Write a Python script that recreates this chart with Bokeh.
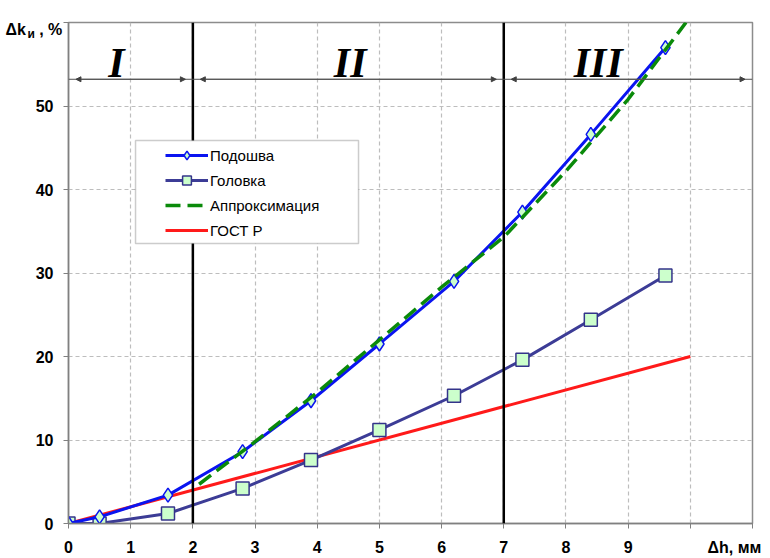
from bokeh.plotting import figure
from bokeh.models import (Range1d, FixedTicker, Span, Label, Legend, LegendItem,
                          BoxAnnotation, Arrow, NormalHead)
from bokeh.embed import file_html
from bokeh.resources import INLINE

# ---- data ----
x_pod = [0, 0.5, 1.6, 2.8, 3.9, 5.0, 6.2, 7.3, 8.4, 9.6]
y_pod = [0, 0.8, 3.4, 8.6, 14.7, 21.5, 29.0, 37.3, 46.6, 57.0]
x_gol = [0, 0.5, 1.6, 2.8, 3.9, 5.0, 6.2, 7.3, 8.4, 9.6]
y_gol = [0, 0.0, 1.2, 4.2, 7.6, 11.2, 15.3, 19.6, 24.4, 29.7]
x_appr = [2.1, 3, 4, 5, 6, 7, 8, 9, 9.93]
y_appr = [4.7, 9.8, 15.7, 22.0, 28.3, 34.3, 42.2, 50.8, 60.0]
x_gost = [0, 10]
y_gost = [0, 20]

x_grid_ticks = list(range(0, 12))
x_label_ticks = list(range(0, 10))
x_title = "Δh, мм"
x_title_pos = 10.71
y_ticks = [0, 10, 20, 30, 40, 50, 60]
y_tick_labels = {str(v): (str(v) if v <= 50 else "") for v in y_ticks}
y_title_main = "Δk\u00a0\u00a0\u00a0, %"
y_title_sub = "и"

zone_bounds = [0, 2, 7, 11]
zone_names = ["I", "II", "III"]
zone_label_x = [0.77, 4.53, 8.52]
arrow_y = 53.2
legend_names = ["Подошва", "Головка", "Аппроксимация", "ГОСТ Р"]

FONT = "Liberation Sans"
X0, XS = 68.0, 62.18   # pixel of x=0, px per x unit
Y0, YS = 523.0, 8.35   # pixel of y=0, px per y unit

p = figure(width=770, height=558, output_backend="svg", toolbar_location=None,
           x_range=Range1d(0, 11), y_range=Range1d(0, 60),
           min_border_left=68, min_border_right=18, min_border_top=22, min_border_bottom=35)
p.background_fill_color = "white"
p.border_fill_color = "white"
p.outline_line_color = "#8c8c8c"
p.outline_line_width = 1.5

for ax in (p.xaxis[0], p.yaxis[0]):
    ax.axis_line_color = "#808080"
    ax.axis_line_width = 1.5
    ax.major_tick_line_color = "#808080"
    ax.major_tick_in = 0
    ax.major_tick_out = 5
    ax.minor_tick_line_color = None
    ax.major_label_text_font = FONT
    ax.major_label_text_font_style = "bold"
    ax.major_label_text_font_size = "16px"
    ax.major_label_text_color = "black"

# x axis: tick marks as (minor) marks at every integer, labels 0..9 plus the axis title
x_major = x_label_ticks + [x_title_pos]
p.xaxis.ticker = FixedTicker(ticks=x_major, minor_ticks=x_grid_ticks)
p.xaxis.major_label_overrides = {x_title_pos: x_title}
p.xaxis.major_tick_line_color = None
p.xaxis.minor_tick_line_color = "#808080"
p.xaxis.minor_tick_in = 0
p.xaxis.minor_tick_out = 5
p.xaxis.major_tick_out = 5
p.xaxis.major_label_standoff = 10

p.yaxis.ticker = FixedTicker(ticks=y_ticks)
p.yaxis.major_label_overrides = {v: y_tick_labels[str(v)] for v in y_ticks}
p.yaxis.major_label_standoff = 10

p.xgrid.ticker = FixedTicker(ticks=x_grid_ticks)
p.ygrid.ticker = FixedTicker(ticks=y_ticks)
for g in (p.xgrid[0], p.ygrid[0]):
    g.grid_line_color = "#bdbdbd"
    g.grid_line_dash = "4 3"
    g.grid_line_width = 1.2

# zone separators
for b in zone_bounds[1:-1]:
    p.add_layout(Span(location=b, dimension="height", line_color="black", line_width=2.5))

# zone arrows
p.add_layout(Span(location=arrow_y, dimension="width", line_color="#505050", line_width=1))
for a, b in zip(zone_bounds[:-1], zone_bounds[1:]):
    p.add_layout(Arrow(x_start=a + 0.12, y_start=arrow_y, x_end=b - 0.12, y_end=arrow_y,
                       line_color="#505050", line_width=1,
                       start=NormalHead(size=5, fill_color="#404040", line_color="#404040"),
                       end=NormalHead(size=5, fill_color="#404040", line_color="#404040")))

for name, lx in zip(zone_names, zone_label_x):
    p.add_layout(Label(x=lx, y=55.1, text=name, text_align="center", text_baseline="alphabetic",
                       text_font="Liberation Serif", text_font_style="bold italic",
                       text_font_size="42px", text_color="black"))

# series
r_gost = p.line(x_gost, y_gost, line_color="#ff1a1a", line_width=3)
r_gol_l = p.line(x_gol, y_gol, line_color="#3c3c96", line_width=3)
r_gol_m = p.scatter(x_gol, y_gol, marker="square", size=13, fill_color="#ccffcc",
                    line_color="#34348a", line_width=1.5)
r_pod_l = p.line(x_pod, y_pod, line_color="#0a14f0", line_width=3)
r_pod_m = p.scatter(x_pod, y_pod, marker="diamond", size=14, fill_color="#ccffcc",
                    line_color="#0a14f0", line_width=1.5)
r_appr = p.line(x_appr, y_appr, line_color="#0a8a0a", line_width=3.5, line_dash="15 7")

# legend box
p.add_layout(BoxAnnotation(left=1.078, right=4.664, top=45.87, bottom=33.53,
                           fill_color="white", fill_alpha=1.0,
                           line_color="#555555", line_width=1.5))
legend = Legend(items=[
    LegendItem(label=legend_names[0], renderers=[r_pod_l, r_pod_m]),
    LegendItem(label=legend_names[1], renderers=[r_gol_l, r_gol_m]),
    LegendItem(label=legend_names[2], renderers=[r_appr]),
    LegendItem(label=legend_names[3], renderers=[r_gost]),
], location=(97, 282), padding=0, spacing=3, glyph_height=22, glyph_width=43,
    label_standoff=2, label_text_font=FONT, label_text_font_size="15px",
    label_text_color="black", background_fill_alpha=0, border_line_alpha=0, margin=0)
p.add_layout(legend)


# y axis title: labels living in side panels (not clipped by the frame),
# each panel chosen so that its thickness stays within the borders
def panel_label(text, px, py, size, side, align="left"):
    p.add_layout(Label(x=(px - X0) / XS, y=(Y0 - py) / YS, text=text,
                       text_align=align, text_baseline="alphabetic", text_font=FONT,
                       text_font_style="bold", text_font_size=size, text_color="black"), side)


panel_label(y_title_main, 5, 29, "16px", "above")
panel_label(y_title_sub, 27, 33, "12px", "right")

open("out.html", "w").write(file_html(p, INLINE))
